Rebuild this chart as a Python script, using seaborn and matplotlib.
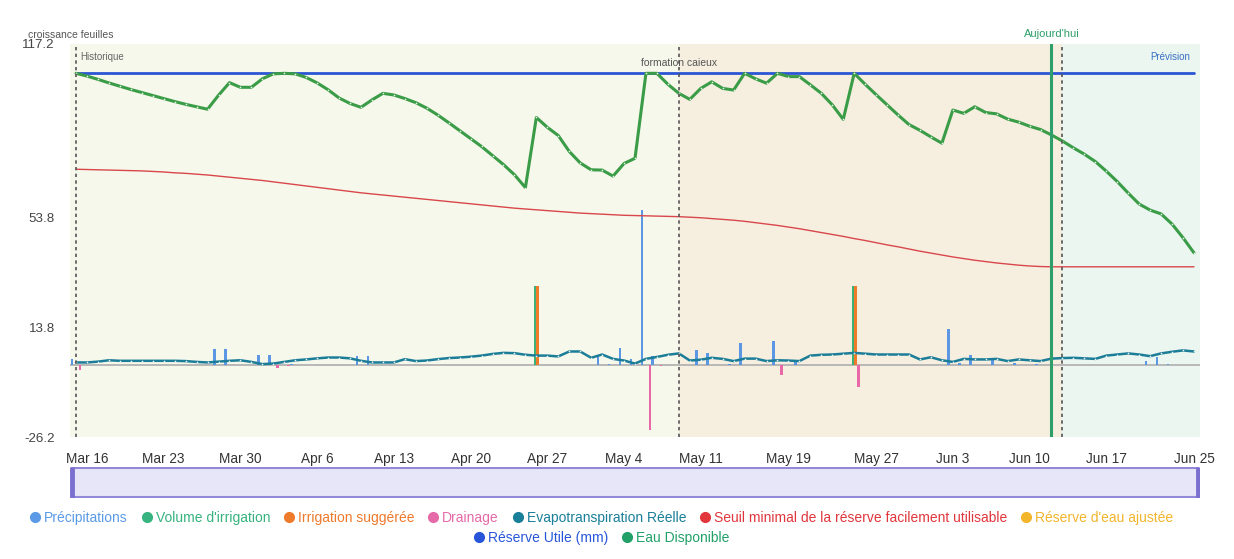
import numpy as np
import pandas as pd
import matplotlib
matplotlib.use("Agg")
import matplotlib.pyplot as plt
import matplotlib.dates as mdates
import matplotlib.transforms as mtransforms
from matplotlib.lines import Line2D
from matplotlib.patches import Rectangle
import seaborn as sns

# ---------------- data ----------------
dates = pd.date_range("2025-03-15", "2025-06-25", freq="D")

eau_disponible = [
    106.5, 105.5, 104.3, 103.0, 101.8, 100.6, 99.5, 98.4, 97.3, 96.2,
    95.2, 94.3, 93.4, 98.5, 103.1, 101.4, 101.4, 104.5, 106.3, 106.5,
    106.3, 105.0, 103.0, 100.5, 97.5, 95.5, 94.1, 96.8, 99.2, 98.6,
    97.3, 95.8, 93.8, 91.3, 88.5, 85.6, 82.7, 79.8, 76.5, 73.2,
    69.5, 64.8, 90.4, 86.8, 83.8, 78.0, 73.8, 71.3, 71.2, 69.0,
    73.6, 75.5, 106.5, 106.5, 102.5, 99.2, 97.0, 101.0, 103.4, 101.0,
    100.4, 106.5, 104.5, 102.9, 106.5, 105.3, 105.3, 102.3, 99.2, 95.0,
    89.7, 106.5, 102.5, 98.7, 95.0, 91.3, 87.8, 85.7, 83.3, 81.0,
    93.1, 91.9, 94.3, 92.2, 91.7, 89.8, 88.7, 87.2, 86.0, 84.0,
    81.8, 79.3, 77.0, 74.3, 70.8, 67.0, 62.8, 58.8, 56.6, 55.2,
    51.5, 46.5, 41.0,
]

seuil_minimal = [
    71.5, 71.4, 71.3, 71.2, 71.1, 71.0, 70.9, 70.7, 70.5, 70.2,
    70.0, 69.7, 69.4, 69.0, 68.6, 68.2, 67.8, 67.4, 66.9, 66.4,
    65.9, 65.4, 64.9, 64.4, 63.9, 63.4, 62.9, 62.5, 62.1, 61.7,
    61.3, 60.9, 60.5, 60.1, 59.7, 59.3, 58.9, 58.5, 58.1, 57.7,
    57.3, 57.0, 56.7, 56.4, 56.1, 55.8, 55.5, 55.3, 55.1, 54.9,
    54.7, 54.6, 54.5, 54.4, 54.3, 54.2, 54.0, 53.8, 53.5, 53.2,
    52.9, 52.5, 52.0, 51.5, 51.0, 50.4, 49.8, 49.1, 48.4, 47.7,
    47.0, 46.2, 45.5, 44.7, 43.9, 43.2, 42.4, 41.6, 40.9, 40.2,
    39.5, 38.9, 38.3, 37.8, 37.3, 36.9, 36.5, 36.2, 36.0, 35.9,
    35.9, 35.9, 35.9, 35.9, 35.9, 35.9, 35.9, 35.9, 35.9, 35.9,
    35.9, 35.9, 35.9,
]

evapotranspiration = [
    1.0, 1.0, 1.3, 1.8, 1.6, 1.6, 1.6, 1.6, 1.6, 1.6,
    1.5, 1.2, 1.0, 1.3, 1.6, 1.8, 1.2, 0.4, 0.6, 1.2,
    1.8, 2.1, 2.5, 2.8, 2.8, 2.5, 1.6, 1.0, 1.0, 1.0,
    2.2, 1.5, 1.7, 2.2, 2.6, 2.8, 3.1, 3.5, 4.1, 4.5,
    4.4, 3.8, 3.5, 3.5, 3.2, 5.0, 5.0, 2.7, 3.9, 2.3,
    1.7, 0.6, 2.3, 3.0, 3.8, 4.3, 1.7, 2.0, 2.7, 2.3,
    1.5, 2.4, 2.4, 1.5, 1.8, 1.7, 1.5, 3.5, 3.8, 3.9,
    4.2, 4.5, 4.2, 3.9, 3.9, 3.9, 3.9, 2.1, 2.9, 1.8,
    1.2, 2.3, 2.1, 2.1, 2.3, 1.5, 2.1, 1.8, 1.5, 2.4,
    2.6, 2.7, 2.5, 2.3, 3.5, 3.9, 4.3, 3.9, 3.3, 4.3,
    4.9, 5.4, 5.0,
]

reserve_utile = [106.6] * len(dates)

precip_dates = [
    "2025-03-15", "2025-03-28", "2025-03-29", "2025-04-01", "2025-04-02",
    "2025-04-04", "2025-04-10", "2025-04-11", "2025-05-02", "2025-05-03",
    "2025-05-04", "2025-05-05", "2025-05-06", "2025-05-07", "2025-05-11",
    "2025-05-12", "2025-05-14", "2025-05-15", "2025-05-18", "2025-05-20",
    "2025-06-03", "2025-06-04", "2025-06-05", "2025-06-07", "2025-06-09",
    "2025-06-11", "2025-06-21", "2025-06-22", "2025-06-23",
]
precip_values = [
    2.4, 5.8, 5.8, 3.9, 3.9,
    0.5, 3.2, 3.2, 3.3, 0.5,
    6.1, 2.3, 56.6, 3.3, 5.7,
    4.5, 0.5, 8.2, 8.8, 1.5,
    13.3, 0.9, 3.9, 1.8, 0.9,
    0.3, 1.5, 2.9, 0.5,
]

irrig_dates = ["2025-04-26", "2025-05-25"]
irrig_volume = [28.8, 28.8]
irrig_suggested = [28.8, 28.8]

drain_dates = ["2025-03-15", "2025-04-02", "2025-04-03", "2025-05-06",
               "2025-05-07", "2025-05-18", "2025-05-25"]
drain_values = [-1.7, -1.2, -0.4, -23.7, -0.4, -3.6, -7.9]

y_ticks = [117.2, 53.8, 13.8, -26.2]
x_tick_labels = ["Mar 16", "Mar 23", "Mar 30", "Apr 6", "Apr 13", "Apr 20",
                 "Apr 27", "May 4", "May 11", "May 19", "May 27", "Jun 3",
                 "Jun 10", "Jun 17", "Jun 25"]
x_tick_dates = ["2025-03-16", "2025-03-23", "2025-03-30", "2025-04-06",
                "2025-04-13", "2025-04-20", "2025-04-27", "2025-05-04",
                "2025-05-11", "2025-05-19", "2025-05-27", "2025-06-03",
                "2025-06-10", "2025-06-17", "2025-06-25"]

historique_date = "2025-03-15"
formation_date = "2025-05-09"
prevision_date = "2025-06-13"
today_date = "2025-06-12"

# ---------------- colors ----------------
C_PRECIP = "#5b97e3"
C_VOL = "#3bb077"
C_SUGG = "#ef7b2a"
C_DRAIN = "#e868a8"
C_ETR = "#1c7d98"
C_SEUIL = "#d9474b"
C_RU = "#2b55d4"
C_EAU = "#3a9c47"
C_TODAY = "#2e9e6a"

# ---------------- figure ----------------
sns.set_theme(style="white")
plt.rcParams["font.family"] = ["Liberation Sans", "DejaVu Sans"]

W, H = 1234, 559
fig = plt.figure(figsize=(W / 100, H / 100), dpi=100)
fig.patch.set_facecolor("white")
ax = fig.add_axes([70 / W, (H - 437) / H, 1130 / W, 393 / H])

day = pd.Timedelta(days=1)
xmin = dates[0] - 0.55 * day
xmax = dates[-1] + 0.55 * day
hist = pd.Timestamp(historique_date)
form = pd.Timestamp(formation_date)
prev = pd.Timestamp(prevision_date)
today = pd.Timestamp(today_date)

ax.axvspan(xmin, form, color="#f6f8eb", lw=0, zorder=0)
ax.axvspan(form, prev, color="#f6efe0", lw=0, zorder=0)
ax.axvspan(prev, xmax, color="#eaf6ef", lw=0, zorder=0)

ax.axhline(0, color="#b3b3b3", lw=1.3, zorder=1)

bw = 0.25
ax.bar(pd.to_datetime(precip_dates) - 0.37 * day, precip_values, width=bw,
       color=C_PRECIP, zorder=3, lw=0)
ax.bar(pd.to_datetime(irrig_dates) - 0.12 * day, irrig_volume, width=bw,
       color=C_VOL, zorder=3, lw=0)
ax.bar(pd.to_datetime(irrig_dates) + 0.12 * day, irrig_suggested, width=bw,
       color=C_SUGG, zorder=3, lw=0)
ax.bar(pd.to_datetime(drain_dates) + 0.37 * day, drain_values, width=bw,
       color=C_DRAIN, zorder=3, lw=0)

df = pd.DataFrame({
    "date": dates,
    "eau": eau_disponible,
    "seuil": seuil_minimal,
    "etr": evapotranspiration,
    "ru": reserve_utile,
})

sns.lineplot(data=df, x="date", y="seuil", ax=ax, color=C_SEUIL, lw=1.0, zorder=4)
sns.lineplot(data=df, x="date", y="ru", ax=ax, color=C_RU, lw=2.0, zorder=4)
sns.lineplot(data=df, x="date", y="etr", ax=ax, color=C_ETR, lw=1.8, zorder=5,
             marker="o", markersize=1.2, markerfacecolor="#e8f2f4",
             markeredgewidth=0)
sns.lineplot(data=df, x="date", y="eau", ax=ax, color=C_EAU, lw=2.2, zorder=6,
             marker="o", markersize=1.2, markerfacecolor="#e8f4ea",
             markeredgewidth=0)

for d in (hist, form, prev):
    ax.axvline(d, color="#555555", lw=1.2, ls=(0, (2, 2)), zorder=7)
ax.axvline(today, color=C_TODAY, lw=2.2, zorder=8)

ax.set_xlim(xmin, xmax)
ax.set_ylim(-26.2, 117.2)
ax.set_yticks(y_ticks)
ax.set_yticklabels([f"{v:.1f}" for v in y_ticks], fontsize=9.6, color="#444444")
ax.set_xticks(pd.to_datetime(x_tick_dates))
ax.set_xticklabels(x_tick_labels, fontsize=9.8, color="#333333")
ax.tick_params(axis="y", length=0, pad=11)
ax.tick_params(axis="x", length=0, pad=11)
ax.set_xlabel("")
ax.set_ylabel("")
for s in ax.spines.values():
    s.set_visible(False)

trans = mtransforms.blended_transform_factory(ax.transData, ax.transAxes)
hx, fx, tx = (mdates.date2num(v) for v in (hist, form, today))
ax.annotate("Historique", xy=(hx, 1), xycoords=trans, xytext=(3, -9.5),
            textcoords="offset points", ha="left", va="center",
            fontsize=7, color="#666666", zorder=9)
ax.annotate("formation caieux", xy=(fx, 1), xycoords=trans, xytext=(0, -13.5),
            textcoords="offset points", ha="center", va="center",
            fontsize=7.5, color="#555555", zorder=9)
ax.text((1190 - 70) / 1130, (437 - 57) / 393, "Prévision", transform=ax.transAxes,
        ha="right", va="center", fontsize=7, color="#3a6fc4", zorder=9)
ax.annotate("Aujourd'hui", xy=(tx, 1), xycoords=trans, xytext=(0, 7.5),
            textcoords="offset points", ha="center", va="center",
            fontsize=8, color=C_TODAY, annotation_clip=False)
fig.text(28 / W, 1 - 35 / H, "croissance feuilles", ha="left", va="center",
         fontsize=7.5, color="#555555")

# data-zoom slider
sax = fig.add_axes([70 / W, (H - 498) / H, 1130 / W, 31 / H])
sax.set_axis_off()
sax.set_xlim(0, 1)
sax.set_ylim(0, 1)
sax.add_patch(Rectangle((0.002, 0.03), 0.996, 0.94, facecolor="#e6e6f8",
                        edgecolor="#9289d8", lw=1.5))
sax.plot([0.002, 0.002], [0.0, 1.0], color="#7b70cf", lw=3.5, solid_capstyle="butt")
sax.plot([0.998, 0.998], [0.0, 1.0], color="#7b70cf", lw=3.5, solid_capstyle="butt")

# legend
def h(c):
    return Line2D([], [], marker="o", ls="", color=c, markersize=7)

row1 = [("Précipitations", "#5b9ae6"), ("Volume d'irrigation", "#36b37e"),
        ("Irrigation suggérée", "#ee7a2c"), ("Drainage", "#e56aa8"),
        ("Evapotranspiration Réelle", "#1a7f99"),
        ("Seuil minimal de la réserve facilement utilisable", "#e0363c"),
        ("Réserve d'eau ajustée", "#f2b52b")]
row2 = [("Réserve Utile (mm)", "#2855d8"), ("Eau Disponible", "#22a068")]

for row, y in ((row1, 1 - 518 / H), (row2, 1 - 538 / H)):
    fig.legend(handles=[h(c) for _, c in row], labels=[l for l, _ in row],
               loc="center", bbox_to_anchor=(0.487, y), ncol=len(row),
               frameon=False, fontsize=10.0, handletextpad=0.2,
               columnspacing=0.9, handlelength=0.9, borderpad=0,
               labelcolor=[c for _, c in row])

fig.savefig("out.png", dpi=100, facecolor="white")
